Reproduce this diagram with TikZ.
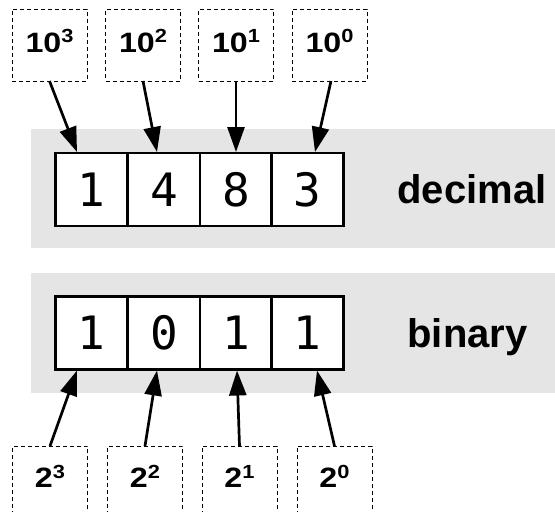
\documentclass[tikz,border=0pt]{standalone}
\usepackage{fontspec}
\usepackage{graphicx}
\setmainfont{Liberation Sans}
\setmonofont{DejaVu Sans Mono}
\usetikzlibrary{arrows.meta,calc}

\definecolor{bandgray}{HTML}{E5E5E5}

% base with a raised exponent, set a little wide
\newcommand{\powlabel}[2]{\scalebox{1.15}[1]{#1\raisebox{9.2pt}{\fontsize{19}{19}\selectfont #2}}}

\tikzset{
  band/.style={fill=bandgray},
  digitcell/.style={draw, fill=white, line width=2.7pt, minimum width=72pt,
    minimum height=73pt, inner sep=0pt, outer sep=0pt,
    font=\ttfamily\fontsize{46}{46}\selectfont},
  weightbox/.style={draw, dashed, dash pattern=on 4pt off 3pt, line width=1pt,
    minimum width=75pt, minimum height=72pt, inner sep=0pt, outer sep=0pt,
    font=\bfseries\fontsize{28}{28}\selectfont},
  basename/.style={font=\bfseries\fontsize{40}{40}\selectfont, inner sep=0pt,
    anchor=base},
  weightarrow/.style={line width=2.7pt, -{Triangle[length=25pt,width=17pt]}}
}

\begin{document}
\begin{tikzpicture}[x=1pt,y=-1pt]
  \useasboundingbox (0,0) rectangle (555,512);
  \clip (0,0) rectangle (555,512);

  % background bands
  \fill[band] (31,129) rectangle (555,248);
  \fill[band] (31,273) rectangle (555,393);

  % decimal digits
  \node[digitcell] (d1) at (91.5,189.5) {1};
  \node[digitcell] (d2) at (164,189.5) {4};
  \node[digitcell] (d3) at (236,189.5) {8};
  \node[digitcell] (d4) at (307.5,189.5) {3};
  \node[basename] (declabel) at (472,203) {decimal};

  % binary digits
  \node[digitcell] (b1) at (91.5,333) {1};
  \node[digitcell] (b2) at (164,333) {0};
  \node[digitcell] (b3) at (236,333) {1};
  \node[digitcell] (b4) at (307.5,333) {1};
  \node[basename] (binlabel) at (467.5,347) {binary};

  % powers of ten
  \begin{scope}[every node/.append style={text depth=8.2pt}]
    \node[weightbox] (p3) at (49.5,45) {\powlabel{10}{3}};
    \node[weightbox] (p2) at (143,45) {\powlabel{10}{2}};
    \node[weightbox] (p1) at (236,45) {\powlabel{10}{1}};
    \node[weightbox] (p0) at (329.5,45) {\powlabel{10}{0}};
  \end{scope}

  % powers of two (open at the bottom edge)
  \begin{scope}[every node/.append style={minimum height=84pt, text depth=11.8pt}]
    \node[weightbox] (q3) at (50,482) {\powlabel{2}{3}};
    \node[weightbox] (q2) at (145,482) {\powlabel{2}{2}};
    \node[weightbox] (q1) at (239.5,482) {\powlabel{2}{1}};
    \node[weightbox] (q0) at (334.5,482) {\powlabel{2}{0}};
  \end{scope}

  % arrows into the decimal digits
  \draw[weightarrow] (p3.south) -- ($(d1.north)+(-14.5,-1)$);
  \draw[weightarrow] (p2.south) -- ($(d2.north)+(-7,-1)$);
  \draw[weightarrow] (p1.south) -- ($(d3.north)+(0,-1)$);
  \draw[weightarrow] ($(p0.south)+(1.5,0)$) -- ($(d4.north)+(7.5,-1)$);

  % arrows into the binary digits
  \draw[weightarrow] (q3.north) -- ($(b1.south)+(-14.5,1)$);
  \draw[weightarrow] (q2.north) -- ($(b2.south)+(-7,1)$);
  \draw[weightarrow] (q1.north) -- ($(b3.south)+(1,1)$);
  \draw[weightarrow] (q0.north) -- ($(b4.south)+(9.5,1)$);
\end{tikzpicture}
\end{document}
